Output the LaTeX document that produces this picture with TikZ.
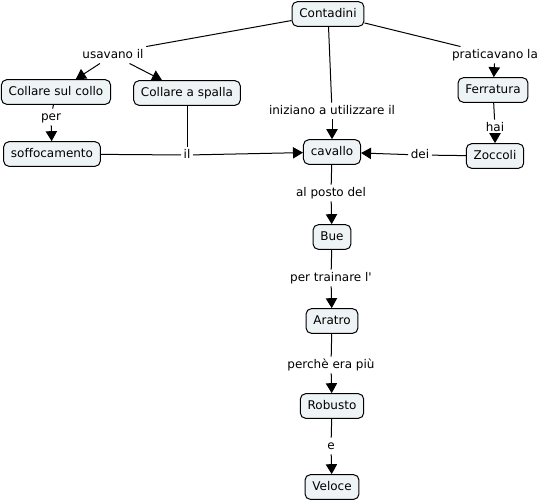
\documentclass[tikz,border=0pt]{standalone}
\usepackage{fontspec}
\setmainfont{DejaVu Sans}[Ligatures={TeXOff,CommonOff}]
\usetikzlibrary{arrows.meta}
\definecolor{nodefill}{RGB}{238,243,245}
\begin{document}
\begin{tikzpicture}[x=0.75pt,y=-0.75pt,
  font=\fontsize{9}{11}\selectfont,
  concept/.style={draw=black, line width=0.75pt, fill=nodefill, rounded corners=4pt,
    minimum height=18.5pt, inner xsep=5.5pt, inner ysep=2pt, text height=6.8pt, text depth=1.9pt},
  lab/.style={inner sep=1.8pt, text height=6.8pt, text depth=1.9pt},
  conn/.style={line width=0.75pt},
  arr/.style={line width=0.75pt, -{Triangle[width=8.5pt,length=7.5pt]}}]
\useasboundingbox (0,0) rectangle (541,501);
% concepts
\node[concept] (contadini) at (328,14) {Contadini};
\node[concept] (collo) at (56,92) {Collare sul collo};
\node[concept] (spalla) at (187,93) {Collare a spalla};
\node[concept] (soffoc) at (52,154) {soffocamento};
\node[concept] (cavallo) at (332,152) {cavallo};
\node[concept] (ferratura) at (493,90) {Ferratura};
\node[concept] (zoccoli) at (495,156) {Zoccoli};
\node[concept] (bue) at (332,237) {Bue};
\node[concept] (aratro) at (332,321) {Aratro};
\node[concept] (robusto) at (332,406) {Robusto};
\node[concept] (veloce) at (332,487) {Veloce};
% linking phrases
\node[lab] (usavano) at (113,55) {usavano il};
\node[lab] (per) at (51,117) {per};
\node[lab] (il) at (187,155) {il};
\node[lab] (iniziano) at (332,111) {iniziano a utilizzare il};
\node[lab] (praticavano) at (495,55) {praticavano la};
\node[lab] (hai) at (495,128) {hai};
\node[lab] (dei) at (420,155) {dei};
\node[lab] (alposto) at (331,193) {al posto del};
\node[lab] (trainare) at (331,278) {per trainare l'};
\node[lab] (perche) at (331,365) {perchè era più};
\node[lab] (e) at (331,446) {e};
% connectors
\draw[conn] (contadini) -- (usavano.north east);
\draw[arr] (usavano) -- (collo);
\draw[arr] (usavano) -- (spalla);
\draw[conn] (collo) -- (per);
\draw[arr] (per) -- (soffoc);
\draw[conn] (spalla) -- (il);
\draw[conn] (soffoc) -- (il);
\draw[arr] (il) -- (cavallo);
\draw[conn] (contadini) -- (iniziano);
\draw[arr] (iniziano) -- (cavallo);
\draw[conn] (contadini) -- (praticavano);
\draw[arr] (praticavano) -- (ferratura);
\draw[conn] (ferratura) -- (hai);
\draw[arr] (hai) -- (zoccoli);
\draw[conn] (zoccoli) -- (dei);
\draw[arr] (dei) -- (cavallo);
\draw[conn] (cavallo) -- (alposto);
\draw[arr] (alposto) -- (bue);
\draw[conn] (bue) -- (trainare);
\draw[arr] (trainare) -- (aratro);
\draw[conn] (aratro) -- (perche);
\draw[arr] (perche) -- (robusto);
\draw[conn] (robusto) -- (e);
\draw[arr] (e) -- (veloce);
\end{tikzpicture}
\end{document}
